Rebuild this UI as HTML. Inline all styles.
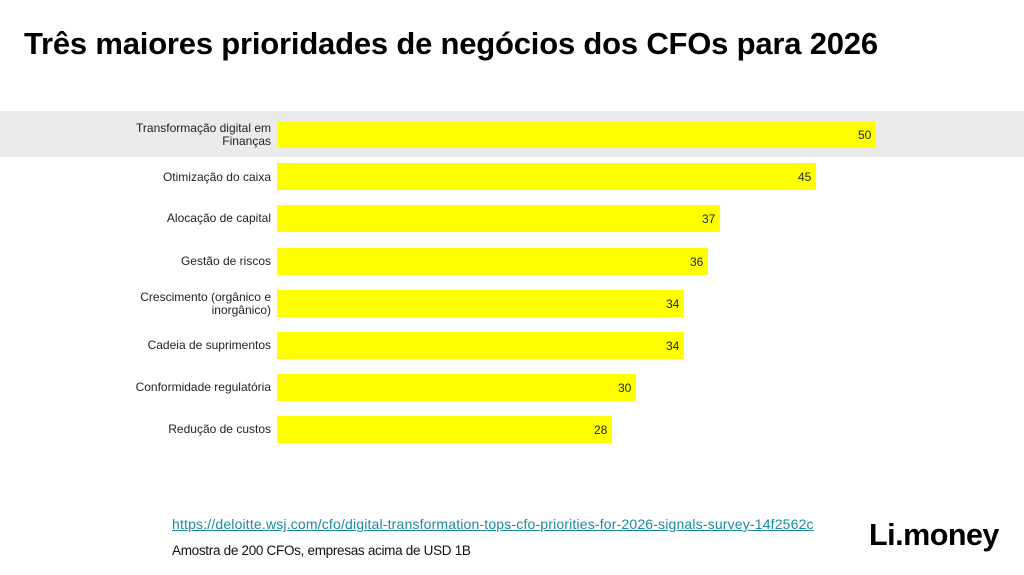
<!DOCTYPE html>
<html><head><meta charset="utf-8"><style>
body{margin:0;width:1024px;height:575px;background:#fff;position:relative;overflow:hidden;font-family:"Liberation Sans",sans-serif;}
.t{position:absolute;left:24px;top:26px;font-size:31px;font-weight:bold;color:#000;letter-spacing:-0.2px;}
.band{position:absolute;left:0;top:111px;width:1024px;height:46px;background:#ebebeb;}
.lab{position:absolute;right:753px;width:200px;text-align:right;font-size:12px;line-height:13px;color:#222;}
.bar{position:absolute;left:277px;height:27px;background:#ffff00;}
.v{position:absolute;font-size:12px;color:#222;}
.link{position:absolute;left:172px;top:516px;font-size:14px;color:#1a8aa0;text-decoration:underline;letter-spacing:0.17px;}
.note{position:absolute;left:172px;top:543px;font-size:13.5px;color:#111;letter-spacing:-0.3px;}
.logo{position:absolute;left:869px;top:518px;font-size:30.5px;font-weight:bold;color:#000;letter-spacing:-0.5px;}
</style></head><body>
<div class="t">Três maiores prioridades de negócios dos CFOs para 2026</div>
<div class="band"></div>
<div class="lab" style="top:122px">Transformação digital em<br>Finanças</div>
<div class="bar" style="top:121px;width:599px"></div><div class="v" style="left:858px;top:128px">50</div>
<div class="lab" style="top:171px">Otimização do caixa</div>
<div class="bar" style="top:163px;width:539px"></div><div class="v" style="left:798px;top:170px">45</div>
<div class="lab" style="top:212px">Alocação de capital</div>
<div class="bar" style="top:205px;width:443px"></div><div class="v" style="left:702px;top:212px">37</div>
<div class="lab" style="top:255px">Gestão de riscos</div>
<div class="bar" style="top:248px;width:431px"></div><div class="v" style="left:690px;top:255px">36</div>
<div class="lab" style="top:291px">Crescimento (orgânico e<br>inorgânico)</div>
<div class="bar" style="top:290px;width:407px"></div><div class="v" style="left:666px;top:297px">34</div>
<div class="lab" style="top:339px">Cadeia de suprimentos</div>
<div class="bar" style="top:332px;width:407px"></div><div class="v" style="left:666px;top:339px">34</div>
<div class="lab" style="top:381px">Conformidade regulatória</div>
<div class="bar" style="top:374px;width:359px"></div><div class="v" style="left:618px;top:381px">30</div>
<div class="lab" style="top:423px">Redução de custos</div>
<div class="bar" style="top:416px;width:335px"></div><div class="v" style="left:594px;top:423px">28</div>
<div class="link">https://deloitte.wsj.com/cfo/digital-transformation-tops-cfo-priorities-for-2026-signals-survey-14f2562c</div>
<div class="note">Amostra de 200 CFOs, empresas acima de USD 1B</div>
<div class="logo">Li.money</div>
</body></html>
